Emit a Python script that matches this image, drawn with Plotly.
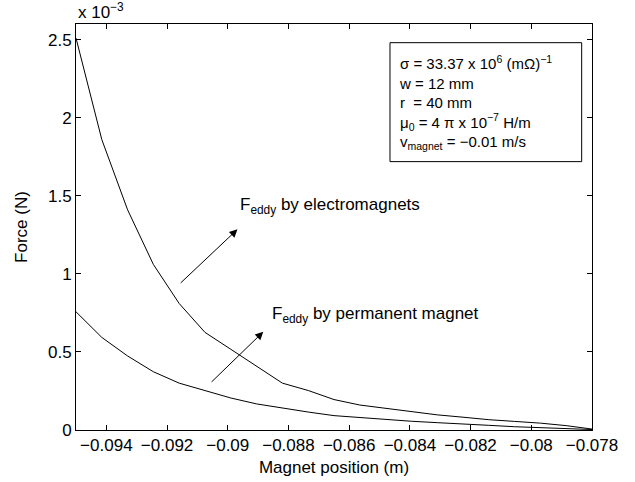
import plotly.graph_objects as go

# Magnet position (m)
positions = [-0.095, -0.09415, -0.0933, -0.09245, -0.0916, -0.09075, -0.0899,
             -0.08905, -0.0882, -0.08735, -0.0865, -0.08565, -0.0848, -0.08395,
             -0.0831, -0.08225, -0.0814, -0.08055, -0.0797, -0.07885, -0.078]
# Force (x 10^-3 N)
force_electromagnets = [2.51, 1.86, 1.41, 1.06, 0.81, 0.625, 0.517, 0.408, 0.30,
                        0.253, 0.195, 0.16, 0.139, 0.115, 0.097, 0.082, 0.066,
                        0.055, 0.044, 0.028, 0.006]
force_permanent = [0.757, 0.593, 0.474, 0.373, 0.30, 0.252, 0.205, 0.167, 0.139,
                   0.115, 0.092, 0.079, 0.066, 0.056, 0.047, 0.040, 0.030, 0.021,
                   0.015, 0.010, 0.003]

x_tickvals = [-0.094, -0.092, -0.09, -0.088, -0.086, -0.084, -0.082, -0.08, -0.078]
x_ticktext = ["\u22120.094", "\u22120.092", "\u22120.09", "\u22120.088", "\u22120.086",
              "\u22120.084", "\u22120.082", "\u22120.08", "\u22120.078"]
y_tickvals = [0, 0.5, 1, 1.5, 2, 2.5]
y_ticktext = ["0", "0.5", "1", "1.5", "2", "2.5"]

label_em = "F<sub>eddy</sub> by electromagnets"
label_pm = "F<sub>eddy</sub> by permanent magnet"
label_em_pos = (-0.08965, 1.435)
label_pm_pos = (-0.08861, 0.735)
arrow_em = (-0.0916, 0.933, -0.08968, 1.285)   # tail x, tail y, head x, head y
arrow_pm = (-0.09058, 0.299, -0.08883, 0.629)

params_lines = ["\u03c3 = 33.37 x 10<sup>6</sup> (m\u03a9)<sup>\u22121</sup>",
                "w = 12 mm",
                "r  = 40 mm",
                "\u03bc<sub>0</sub> = 4 \u03c0 x 10<sup>\u22127</sup> H/m",
                "v<sub>magnet</sub> = \u22120.01 m/s"]

FONT = "Liberation Sans, Arial, sans-serif"
FS = 17
FS_BOX = 15

fig = go.Figure()
fig.add_trace(go.Scatter(x=positions, y=force_electromagnets, mode="lines",
                         line=dict(color="black", width=1), showlegend=False))
fig.add_trace(go.Scatter(x=positions, y=force_permanent, mode="lines",
                         line=dict(color="black", width=1), showlegend=False))

for (lx, ly), txt in [(label_em_pos, label_em), (label_pm_pos, label_pm)]:
    fig.add_annotation(x=lx, y=ly, xref="x", yref="y", text=txt, showarrow=False,
                       xanchor="left", yanchor="middle",
                       font=dict(family=FONT, size=FS, color="black"))

for tx, ty, hx, hy in [arrow_em, arrow_pm]:
    fig.add_annotation(x=hx, y=hy, ax=tx, ay=ty, xref="x", yref="y",
                       axref="x", ayref="y", text="", showarrow=True,
                       arrowhead=2, arrowsize=1.6, arrowwidth=1, arrowcolor="black")

# parameter box
fig.add_shape(type="rect", xref="paper", yref="paper", x0=0.6085, x1=0.980,
              y0=0.661, y1=0.954, line=dict(color="black", width=1),
              fillcolor="white", layer="above")
fig.add_annotation(xref="paper", yref="paper", x=0.6215, y=0.8075,
                   text="<br>".join(params_lines),
                   showarrow=False, xanchor="left", yanchor="middle", align="left",
                   font=dict(family=FONT, size=FS_BOX, color="black"))

# exponent label
fig.add_annotation(xref="paper", yref="paper", x=0.0, y=1.0, yshift=0,
                   text="x 10<sup>\u22123</sup>", showarrow=False,
                   xanchor="left", yanchor="bottom",
                   font=dict(family=FONT, size=FS, color="black"))

axis_common = dict(showgrid=False, zeroline=False, showline=True, linecolor="black",
                   linewidth=1, mirror="ticks", ticks="inside", ticklen=5,
                   tickcolor="black", tickwidth=1, automargin=False,
                   tickfont=dict(family=FONT, size=FS, color="black"))

fig.update_xaxes(range=[-0.095, -0.078], tickvals=x_tickvals, ticktext=x_ticktext,
                 title=dict(text="Magnet position (m)", standoff=6,
                            font=dict(family=FONT, size=FS, color="black")),
                 **axis_common)
fig.update_yaxes(range=[0, 2.6], tickvals=y_tickvals, ticktext=y_ticktext,
                 title=dict(text="Force (N)", standoff=16,
                            font=dict(family=FONT, size=FS, color="black")),
                 **axis_common)

fig.update_layout(width=635, height=482, plot_bgcolor="white", paper_bgcolor="white",
                  margin=dict(l=76, r=43, t=24, b=52), showlegend=False)

fig.write_html("out.html")
